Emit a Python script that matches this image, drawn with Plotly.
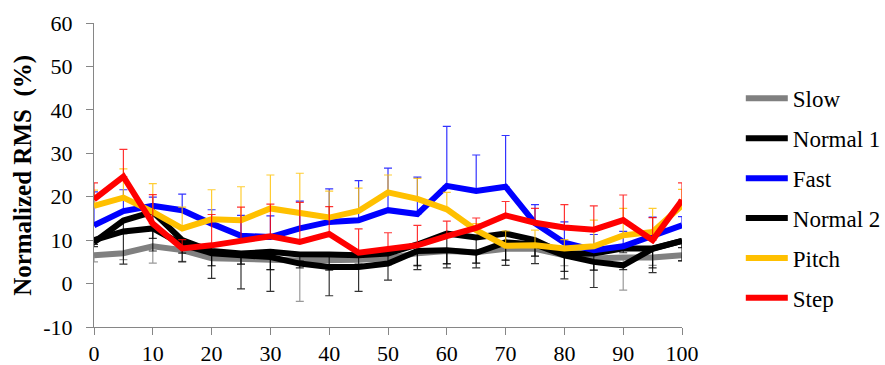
import plotly.graph_objects as go

x_pct = [0, 5, 10, 15, 20, 25, 30, 35, 40, 45, 50, 55, 60, 65, 70, 75, 80, 85, 90, 95, 100]

slow = [6.5, 7.0, 8.6, 7.7, 5.8, 5.8, 5.5, 5.3, 5.3, 5.5, 5.8, 7.0, 7.5, 7.2, 8.0, 8.0, 6.5, 5.8, 6.0, 6.0, 6.5]
slow_err = [1.5, 1.5, 3.9, 2.6, 1.7, 1.3, 2.3, 9.4, 1.5, 1.5, 1.5, 3.0, 3.0, 2.5, 2.6, 1.7, 2.4, 2.7, 7.5, 1.8, 1.4]

normal1 = [9.5, 14.5, 16.5, 10.0, 7.5, 6.9, 7.3, 6.7, 6.7, 6.5, 6.9, 9.0, 11.5, 10.6, 11.5, 10.0, 6.9, 6.9, 8.1, 8.1, 9.8]
normal1_err = [1.0, 3.0, 6.1, 5.0, 6.3, 2.4, 4.1, 1.5, 3.6, 2.0, 2.0, 4.8, 6.9, 5.9, 6.1, 5.4, 4.1, 7.8, 1.0, 5.6, 4.5]

fast = [13.4, 16.7, 17.9, 16.9, 13.8, 11.0, 10.7, 12.7, 14.2, 14.6, 16.9, 16.0, 22.5, 21.3, 22.3, 13.9, 9.4, 7.7, 8.6, 11.1, 13.4]
fast_err = [7.7, 4.9, 2.0, 3.7, 3.2, 4.7, 4.9, 6.3, 7.6, 9.1, 9.7, 8.5, 13.7, 8.3, 11.8, 4.3, 4.8, 3.6, 3.4, 4.2, 2.0]

normal2 = [10.0, 12.0, 12.7, 9.0, 7.0, 6.5, 6.1, 4.6, 3.8, 3.8, 4.6, 7.5, 7.7, 7.1, 9.5, 9.0, 6.5, 5.0, 4.2, 8.0, 9.8]
normal2_err = [1.0, 7.5, 5.2, 2.0, 2.9, 7.7, 7.9, 1.0, 6.6, 5.6, 3.8, 4.3, 4.1, 3.5, 5.3, 2.7, 5.4, 1.9, 1.0, 4.4, 1.5]

pitch = [17.9, 19.8, 16.5, 12.7, 14.8, 14.6, 17.3, 16.3, 15.2, 16.7, 21.0, 19.5, 17.1, 12.3, 8.7, 8.8, 8.1, 8.6, 11.1, 11.9, 18.0]
pitch_err = [3.6, 6.6, 6.5, 4.9, 6.8, 7.7, 7.7, 9.1, 6.1, 5.3, 4.0, 4.7, 3.9, 1.5, 3.4, 3.5, 2.0, 6.0, 6.2, 5.4, 3.7]

step = [19.4, 24.6, 13.8, 8.1, 8.8, 10.0, 10.9, 9.6, 11.4, 7.1, 8.1, 8.8, 10.9, 12.8, 15.7, 14.0, 12.9, 12.4, 14.6, 10.0, 19.2]
step_err = [3.8, 6.3, 6.7, 2.0, 7.1, 7.6, 7.4, 9.1, 6.3, 5.5, 3.6, 4.6, 3.5, 2.3, 3.2, 3.3, 5.3, 5.5, 5.8, 5.2, 4.0]

y_ticks = [-10, 0, 10, 20, 30, 40, 50, 60]
y_tick_text = ["-10", "0", "10", "20", "30", "40", "50", "60"]
x_ticks = [0, 10, 20, 30, 40, 50, 60, 70, 80, 90, 100]
y_title = "Normalized RMS  (%)"

series = [
    ("Slow", slow, slow_err, "#808080", "rgba(128,128,128,0.8)", "down"),
    ("Normal 1", normal1, normal1_err, "#000000", "rgba(0,0,0,0.8)", "down"),
    ("Fast", fast, fast_err, "#0000FF", "rgba(0,0,255,0.8)", "up"),
    ("Normal 2", normal2, normal2_err, "#000000", "rgba(0,0,0,0.8)", "down"),
    ("Pitch", pitch, pitch_err, "#FFC000", "rgba(255,192,0,0.8)", "up"),
    ("Step", step, step_err, "#FF0000", "rgba(255,0,0,0.8)", "up"),
]

FONT = "Liberation Serif"

fig = go.Figure()
for name, vals, err, col, ecol, direction in series:
    zeros = [0] * len(err)
    fig.add_trace(go.Scatter(
        x=x_pct, y=vals, name=name, mode="lines", legendgroup=name,
        line=dict(color=col, width=6),
        error_y=dict(
            type="data", symmetric=False,
            array=err if direction == "up" else zeros,
            arrayminus=zeros if direction == "up" else err,
            color=ecol, thickness=1.2, width=4,
        ),
    ))

fig.add_annotation(
    text="<b>" + y_title + "</b>", textangle=-90,
    xref="paper", yref="paper", x=-0.121, y=0.5,
    xanchor="center", yanchor="middle", showarrow=False,
    font=dict(family=FONT, size=25, color="black"),
)

fig.update_layout(
    width=885, height=365,
    margin=dict(l=94, r=203, t=23, b=38, autoexpand=False),
    paper_bgcolor="white", plot_bgcolor="white",
    font=dict(family=FONT, size=22, color="black"),
    showlegend=True,
    legend=dict(
        x=1.1, y=0.423, xanchor="left", yanchor="middle",
        font=dict(family=FONT, size=23, color="black"),
        tracegroupgap=7, itemwidth=42,
        bgcolor="rgba(0,0,0,0)",
    ),
    xaxis=dict(
        range=[0, 100], tickvals=x_ticks, showgrid=False, zeroline=False,
        showline=True, linecolor="#868686", linewidth=1,
        ticks="outside", ticklen=7, tickcolor="#868686",
        ticklabelstandoff=0,
        tickfont=dict(family=FONT, size=22, color="black"),
    ),
    yaxis=dict(
        range=[-10, 60], tickvals=y_ticks, ticktext=y_tick_text,
        showgrid=False, zeroline=False,
        showline=True, linecolor="#868686", linewidth=1,
        ticks="outside", ticklen=7, tickcolor="#868686",
        ticklabelstandoff=9,
        tickfont=dict(family=FONT, size=22, color="black"),
    ),
)

fig.write_html("out.html")
